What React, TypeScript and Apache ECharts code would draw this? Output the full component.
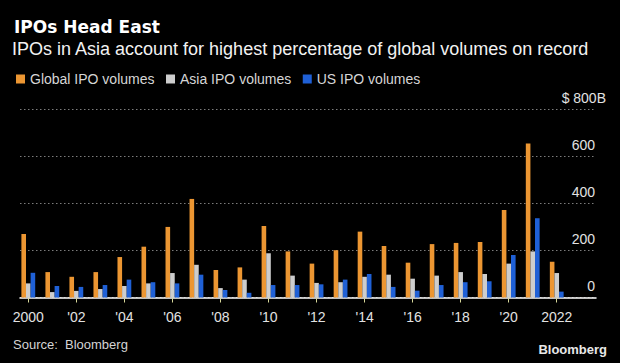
import { useEffect, useRef } from "react";
import * as echarts from "echarts";

const years = [2000, 2001, 2002, 2003, 2004, 2005, 2006, 2007, 2008, 2009, 2010, 2011, 2012, 2013, 2014, 2015, 2016, 2017, 2018, 2019, 2020, 2021, 2022];
const globalIPO = [270, 108, 88, 108, 172, 216, 300, 419, 117, 128, 304, 196, 144, 201, 280, 219, 148, 227, 232, 236, 372, 655, 152];
const asiaIPO = [60, 23, 28, 36, 49, 60, 104, 139, 40, 76, 188, 93, 62, 65, 88, 97, 80, 93, 108, 100, 144, 196, 104];
const usIPO = [105, 49, 45, 53, 76, 65, 60, 97, 32, 20, 53, 53, 56, 76, 100, 45, 29, 53, 65, 69, 181, 337, 25];
const labelYears = [2000, 2002, 2004, 2006, 2008, 2010, 2012, 2014, 2016, 2018, 2020, 2022];
const yTicks = [0, 200, 400, 600, 800];

const seriesNames = ["Global IPO volumes", "Asia IPO volumes", "US IPO volumes"];
const colors = ["#EC9632", "#CDCDCD", "#1F60D6"];

const GRID_LEFT = 20;
const GRID_RIGHT_EDGE = 596;
const GRID_TOP = 109.3;
const GRID_BOTTOM_Y = 297.5;
const PX_PER_YEAR = 24.02;
const FIRST_X = 28.3;

export default function App() {
  const ref = useRef<HTMLDivElement>(null);
  useEffect(() => {
    document.body.style.margin = "0";
    document.body.style.background = "#000";
    const chart = echarts.init(ref.current!, null, { renderer: "svg" });
    const pairs = (arr: number[]) => years.map((y, i) => [y, arr[i]]);
    const xMin = years[0] - (FIRST_X - GRID_LEFT) / PX_PER_YEAR;
    const xMax = years[0] + (GRID_RIGHT_EDGE - FIRST_X) / PX_PER_YEAR;
    const sans = "'Liberation Sans', Arial, sans-serif";
    chart.setOption({
      animation: false,
      backgroundColor: "#000",
      color: colors,
      grid: {
        left: GRID_LEFT,
        right: 620 - GRID_RIGHT_EDGE,
        top: GRID_TOP,
        bottom: 363 - GRID_BOTTOM_Y,
        containLabel: false,
      },
      legend: {
        left: 16,
        top: 72,
        padding: 0,
        icon: "rect",
        itemWidth: 9,
        itemHeight: 9,
        itemGap: 11.5,
        selectedMode: false,
        data: seriesNames,
        textStyle: { color: "#d6d6d6", fontSize: 14, fontFamily: sans },
      },
      xAxis: {
        type: "value",
        min: xMin,
        max: xMax,
        splitLine: { show: false },
        axisLine: { show: true, onZero: false, lineStyle: { color: "#ffffff", width: 1.5 } },
        axisTick: { show: true, length: 5, customValues: labelYears, lineStyle: { color: "#d8d89a", width: 1 } },
        axisLabel: {
          customValues: labelYears,
          margin: 12,
          color: "#e2e2e2",
          fontSize: 14,
          fontFamily: sans,
          formatter: (v: number) =>
            v === labelYears[0] || v === labelYears[labelYears.length - 1] ? String(v) : "'" + String(v).slice(2),
        },
      },
      yAxis: {
        type: "value",
        position: "right",
        min: yTicks[0],
        max: yTicks[yTicks.length - 1],
        interval: 200,
        axisLine: { show: false },
        axisTick: { show: false },
        splitLine: { show: true, lineStyle: { color: "#7c7c7c", type: [1.5, 2.5], width: 1 } },
        axisLabel: {
          inside: true,
          margin: 1,
          verticalAlign: "bottom",
          padding: [0, 0, 4.5, 0],
          color: "#e2e2e2",
          fontSize: 14,
          fontFamily: sans,
          formatter: (v: number) => (v === yTicks[yTicks.length - 1] ? "" : String(v)),
        },
      },
      series: [
        { name: seriesNames[0], type: "bar", data: pairs(globalIPO), barWidth: 4.6, barGap: "0%" },
        { name: seriesNames[1], type: "bar", data: pairs(asiaIPO), barWidth: 4.6, barGap: "0%" },
        { name: seriesNames[2], type: "bar", data: pairs(usIPO), barWidth: 4.6, barGap: "0%" },
      ],
      graphic: [
        {
          type: "text",
          x: 14,
          y: 18,
          style: { text: "IPOs Head East", fill: "#ffffff", font: "bold 17px 'DejaVu Sans', sans-serif", textVerticalAlign: "top" },
        },
        {
          type: "text",
          x: 12,
          y: 40,
          style: { text: "IPOs in Asia account for highest percentage of global volumes on record", fill: "#f2f2f2", font: "18px " + sans, textVerticalAlign: "top" },
        },
        {
          type: "text",
          x: 606,
          y: GRID_TOP - 4.6,
          style: { text: "$ 800B", fill: "#e2e2e2", font: "14px " + sans, textAlign: "right", textVerticalAlign: "bottom" },
        },
        {
          type: "text",
          x: 13,
          y: 337.6,
          style: { text: "Source:  Bloomberg", fill: "#d4d4d4", font: "13px " + sans, textVerticalAlign: "top" },
        },
        {
          type: "text",
          x: 607,
          y: 343.3,
          style: { text: "Bloomberg", fill: "#e8e8e8", font: "bold 13px " + sans, textAlign: "right", textVerticalAlign: "top" },
        },
      ],
    });
    return () => chart.dispose();
  }, []);
  return <div ref={ref} style={{ width: 620, height: 363 }} />;
}
